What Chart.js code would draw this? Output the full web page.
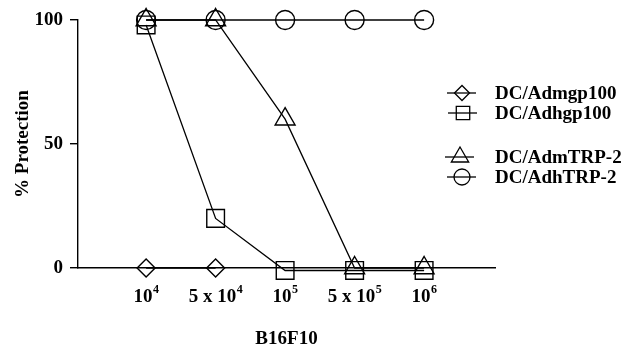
<!DOCTYPE html>
<html>
<head>
<meta charset="utf-8">
<script src="https://cdn.jsdelivr.net/npm/chart.js@4.4.0/dist/chart.umd.min.js"></script>
<style>
  html, body { margin: 0; padding: 0; background: #fff; }
  #wrap { width: 636px; height: 352px; }
</style>
</head>
<body>
<div id="wrap"><canvas id="graph"></canvas></div>
<script>
// tumour challenge doses (B16F10 cells): mantissa + exponent
var doseBase = ['10', '5 x 10', '10', '5 x 10', '10'];
var doseExp = ['4', '4', '5', '5', '6'];

// % protection per vaccine
var mgp100 = [0, 0, null, null, null];
var hgp100 = [98, 20, -1, -1, -1];
var mTRP2 = [100, 100, 60, 0, 0];
var hTRP2 = [100, 100, 100, 100, 100];

var seriesNames = ['DC/Admgp100', 'DC/Adhgp100', 'DC/AdmTRP-2', 'DC/AdhTRP-2'];
var yTicks = [0, 50, 100];

var FONT = 'bold 19px "Liberation Serif", "Times New Roman", serif';

function points(values) {
	return values.map(function(v, i) { return { x: i, y: v }; });
}

function series(name, values, style, radius, legendRadius) {
	return {
		label: name,
		data: points(values),
		pointStyle: style,
		pointRadius: radius,
		pointHoverRadius: radius,
		legendRadius: legendRadius,
		borderColor: '#000',
		backgroundColor: 'rgba(0,0,0,0)',
		pointBorderColor: '#000',
		pointBackgroundColor: 'rgba(0,0,0,0)',
		pointBorderWidth: 1.4,
		borderWidth: 1.3,
		tension: 0,
		spanGaps: false,
		clip: false
	};
}

// legend at the right, with a gap between the gp100 and TRP-2 pairs
var sideLegend = {
	id: 'sideLegend',
	afterDraw: function(chart) {
		var ctx = chart.ctx;
		var rows = [93, 113, 157, 177];
		var cx = [462, 463, 460, 462];
		chart.data.datasets.forEach(function(ds, i) {
			var y = rows[i];
			ctx.save();
			ctx.strokeStyle = '#000';
			ctx.fillStyle = 'rgba(0,0,0,0)';
			ctx.lineWidth = 1.3;
			ctx.beginPath();
			ctx.moveTo(cx[i] - 15, y);
			ctx.lineTo(cx[i] + 14, y);
			ctx.stroke();
			Chart.helpers.drawPoint(ctx, {
				pointStyle: ds.pointStyle,
				radius: ds.legendRadius,
				borderWidth: 1.3,
				rotation: 0
			}, cx[i], y);
			ctx.fillStyle = '#000';
			ctx.font = FONT;
			ctx.textBaseline = 'middle';
			ctx.textAlign = 'left';
			ctx.fillText(ds.label, 495, y + 1);
			ctx.restore();
		});
	}
};

// x tick labels with superscript exponents
var doseLabels = {
	id: 'doseLabels',
	afterDraw: function(chart) {
		var ctx = chart.ctx;
		var xs = chart.scales.x;
		var y = chart.chartArea.bottom + 29;
		ctx.save();
		ctx.fillStyle = '#000';
		ctx.textBaseline = 'middle';
		doseBase.forEach(function(base, i) {
			ctx.font = FONT;
			var wb = ctx.measureText(base).width;
			ctx.font = 'bold 12px "Liberation Serif", "Times New Roman", serif';
			var we = ctx.measureText(doseExp[i]).width;
			var x0 = xs.getPixelForValue(i) - (wb + we) / 2;
			ctx.font = FONT;
			ctx.textAlign = 'left';
			ctx.fillText(base, x0, y);
			ctx.font = 'bold 12px "Liberation Serif", "Times New Roman", serif';
			ctx.fillText(doseExp[i], x0 + wb + 0.5, y - 7);
		});
		ctx.restore();
	}
};

var ctx = document.getElementById('graph').getContext('2d');

var graph = new Chart(ctx, {
	type: 'line',
	data: {
		datasets: [
			series(seriesNames[0], mgp100, 'rectRot', 9, 7.5),
			series(seriesNames[1], hgp100, 'rect', 12.5, 9.5),
			series(seriesNames[2], mTRP2, 'triangle', 11.5, 10),
			series(seriesNames[3], hTRP2, 'circle', 9.5, 8)
		]
	},
	options: {
		responsive: true,
		maintainAspectRatio: false,
		animation: false,
		events: [],
		layout: {
			padding: { top: 20, right: 141, bottom: 0, left: 0 }
		},
		plugins: {
			legend: { display: false },
			tooltip: { enabled: false }
		},
		scales: {
			x: {
				type: 'linear',
				min: -0.98,
				max: 5.02,
				afterBuildTicks: function(scale) {
					scale.ticks = [];
				},
				afterFit: function(scale) {
					scale.height = 84;
				},
				ticks: { display: false },
				grid: { display: false },
				border: { color: '#000', width: 1.4 },
				title: {
					display: true,
					text: 'B16F10',
					color: '#000',
					font: { family: '"Liberation Serif", "Times New Roman", serif', size: 19, weight: 'bold' },
					padding: { top: 0, bottom: 2 }
				}
			},
			y: {
				min: 0,
				max: 100,
				afterBuildTicks: function(scale) {
					scale.ticks = yTicks.map(function(v) { return { value: v }; });
				},
				afterFit: function(scale) {
					scale.width = 78;
				},
				ticks: {
					color: '#000',
					padding: 7,
					font: { family: '"Liberation Serif", "Times New Roman", serif', size: 19, weight: 'bold' }
				},
				grid: {
					drawOnChartArea: false,
					tickLength: 8,
					color: '#000',
					lineWidth: 1.4
				},
				border: { color: '#000', width: 1.4 },
				title: {
					display: true,
					text: '% Protection',
					color: '#000',
					font: { family: '"Liberation Serif", "Times New Roman", serif', size: 19, weight: 'bold' },
					padding: { top: 12, bottom: 0 }
				}
			}
		}
	},
	plugins: [sideLegend, doseLabels]
});
</script>
</body>
</html>
